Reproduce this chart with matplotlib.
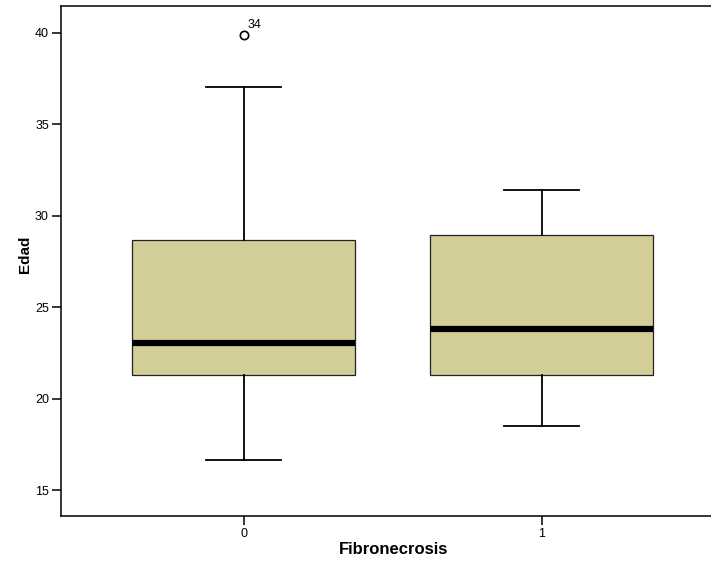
import matplotlib
matplotlib.use("Agg")
import matplotlib.pyplot as plt

plt.rcParams['font.family'] = ['Liberation Sans', 'DejaVu Sans']

categories = ["0", "1"]
whislo = [16.65, 18.5]
q1 = [21.3, 21.3]
med = [23.05, 23.8]
q3 = [28.65, 28.92]
whishi = [37.05, 31.4]
outliers = [[39.85], []]
outlier_labels = [["34"], []]
yticks = [15, 20, 25, 30, 35, 40]

fig = plt.figure(figsize=(7.11, 5.66), dpi=100)
ax = fig.add_axes([60.7/711, 1-516/566, 1-60.7/711 + 0.003, (516-5.7)/566])

stats = []
for i in range(len(categories)):
    stats.append(dict(whislo=whislo[i], q1=q1[i], med=med[i], q3=q3[i],
                      whishi=whishi[i], fliers=outliers[i], label=categories[i]))

ax.bxp(stats, positions=range(len(categories)), widths=0.75, patch_artist=True,
       boxprops=dict(facecolor='#D3CE98', edgecolor='#222222', linewidth=0.9),
       medianprops=dict(color='black', linewidth=4.5, solid_capstyle='butt'),
       whiskerprops=dict(color='black', linewidth=1.3),
       capprops=dict(color='black', linewidth=1.3),
       capwidths=0.25,
       flierprops=dict(marker='o', markerfacecolor='white', markeredgecolor='black',
                       markersize=6, markeredgewidth=1.2))

for i, (vals, labs) in enumerate(zip(outliers, outlier_labels)):
    for v, l in zip(vals, labs):
        ax.annotate(l, (i, v), xytext=(3, 3), textcoords='offset points',
                    fontsize=9, ha='left', va='bottom')

ax.set_xlim(-0.614, 1.576)
ax.set_ylim(13.58, 41.47)
ax.set_yticks(yticks)
ax.set_yticklabels([str(t) for t in yticks])
ax.set_xticks(range(len(categories)))
ax.set_xticklabels(categories)
ax.tick_params(axis='both', length=6.5, width=1.1, labelsize=9, pad=2, color='black')
for s in ['left', 'top', 'bottom']:
    ax.spines[s].set_linewidth(1.1)
ax.spines['right'].set_visible(False)

ax.set_xlabel('Fibronecrosis', fontsize=12, fontweight='bold', va='center')
ax.xaxis.set_label_coords(0.5095, -0.0666)
ax.set_ylabel('Edad', fontsize=11, fontweight='bold', va='center')
ax.yaxis.set_label_coords(-0.054, 0.513)

fig.savefig('out.png', dpi=100)
